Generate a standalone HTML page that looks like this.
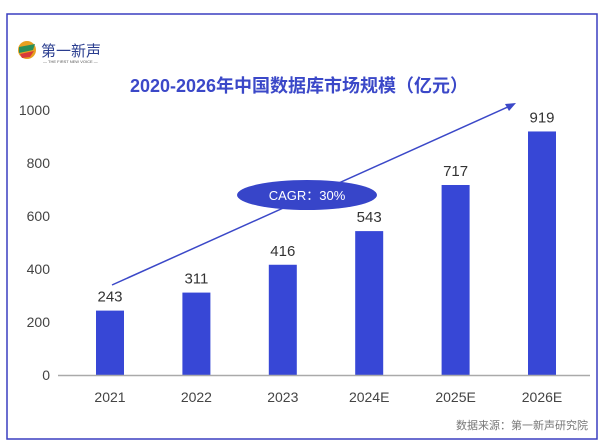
<!DOCTYPE html>
<html><head><meta charset="utf-8"><style>
body{margin:0;background:#fff;font-family:"Liberation Sans","Noto Sans CJK SC",sans-serif}
svg text{font-family:"Liberation Sans","Noto Sans CJK SC",sans-serif}
</style></head><body>
<svg width="600" height="441" viewBox="0 0 600 441">
<rect x="7" y="14" width="590" height="425" fill="#fff" stroke="#3a3ec0" stroke-width="1.5"/>
<g>
<circle cx="27" cy="50" r="9" fill="#e8a020"/><path d="M19 47 L35 44 L33 50 L19 53Z" fill="#2a8f5a"/><path d="M20 54 L34 51 L30 57 L22 58Z" fill="#d83a3a"/>
<text x="41" y="56" font-size="15" fill="#2a3d8f">第一新声</text>
<text x="43" y="63" font-size="4" fill="#555">— THE FIRST NEW VOICE —</text>
</g>
<text x="299" y="92" text-anchor="middle" font-size="18" font-weight="bold" fill="#3b48c8">2020-2026年中国数据库市场规模（亿元）</text>
<g id="yaxis"></g><g id="bars"></g>
<line x1="58" y1="375.5" x2="590" y2="375.5" stroke="#aaa" stroke-width="1.5"/>
<line x1="112" y1="285" x2="510" y2="106" stroke="#3b48c8" stroke-width="1.5"/>
<polygon points="516,103 505,104 509,111" fill="#3b48c8"/>
<ellipse cx="307" cy="195" rx="70" ry="15" fill="#3745c9"/>
<text x="307" y="200" text-anchor="middle" font-size="13" fill="#fff">CAGR：30%</text>
<text x="588" y="429" text-anchor="end" font-size="11" fill="#777">数据来源：第一新声研究院</text>
</svg>
<script>
const categories=["2021","2022","2023","2024E","2025E","2026E"];
const values=[243,311,416,543,717,919];
const yTicks=[0,200,400,600,800,1000];
const NS="http://www.w3.org/2000/svg";
function y(v){return 375-v*0.265;}
function x(i){return 110+i*86.4;}
function mk(t,a,txt){const e=document.createElementNS(NS,t);for(const k in a)e.setAttribute(k,a[k]);if(txt!==undefined)e.textContent=txt;return e;}
const ya=document.getElementById('yaxis'),bg=document.getElementById('bars');
yTicks.forEach(t=>{const e=mk('text',{x:50,y:y(t)+5,'text-anchor':'end','font-size':14,fill:'#444'},t);


ya.appendChild(e);});
values.forEach((v,i)=>{
const r=mk('rect',{x:x(i)-14,y:y(v),width:28,height:375-y(v),fill:'#3747d6'});


bg.appendChild(r);
const l=mk('text',{x:x(i),y:y(v)-9,'text-anchor':'middle','font-size':15,fill:'#333'},v);


bg.appendChild(l);
const c=mk('text',{x:x(i),y:402,'text-anchor':'middle','font-size':14,fill:'#444'},categories[i]);


bg.appendChild(c);
});
</script>
</body></html>
